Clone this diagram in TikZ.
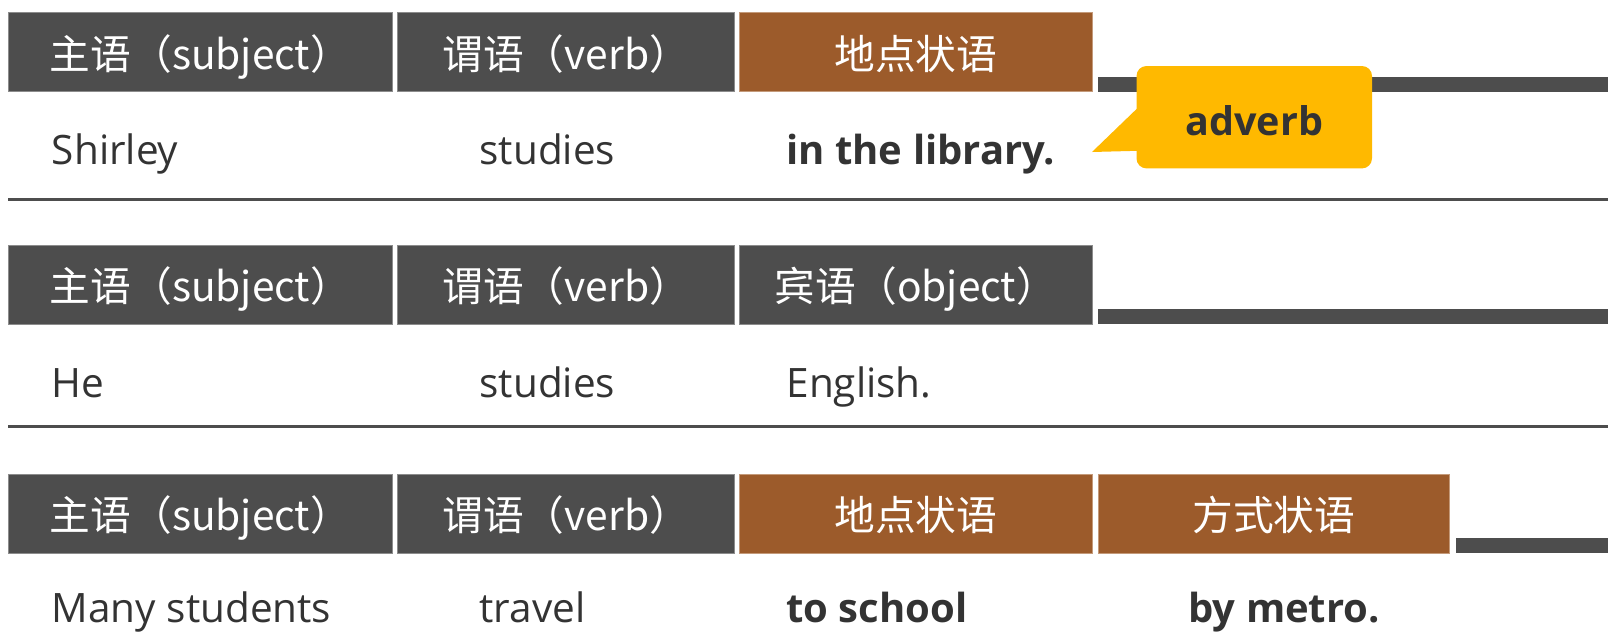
\documentclass[tikz,border=0pt]{standalone}
\usepackage{fontspec}
\setmainfont{Open Sans}
\newfontfamily\cjk{Noto Sans CJK SC}
\usetikzlibrary{calc}
\definecolor{hdr}{HTML}{4D4D4D}
\definecolor{hdredge}{HTML}{8C8C8C}
\definecolor{brn}{HTML}{9C5B2B}
\definecolor{brnedge}{HTML}{C49A7A}
\definecolor{ylw}{HTML}{FFB900}
\definecolor{txt}{HTML}{333333}
\begin{document}
\begin{tikzpicture}[x=1pt,y=-1pt,
  hcell/.style={draw=hdredge, line width=1pt, text=white, inner sep=0pt,
    minimum height=79pt, text height=38pt, text depth=4pt,
    font=\cjk\fontsize{40.7}{44}\selectfont},
  graycell/.style={hcell, fill=hdr},
  browncell/.style={hcell, fill=brn, draw=brnedge},
  wA/.style={minimum width=384.3pt},
  wB/.style={minimum width=336.8pt},
  wC/.style={minimum width=352.2pt},
  wD/.style={minimum width=351.6pt},
  word/.style={anchor=base west, inner sep=0pt, text=txt, font=\fontsize{40.5}{44}\selectfont},
  bword/.style={word, font=\fontsize{40}{44}\selectfont\bfseries},
  bar/.style={fill=hdr},
  sep/.style={draw=hdr, line width=3pt},
  callout/.style={fill=ylw, rounded corners=10pt, inner sep=0pt,
    minimum width=235.5pt, minimum height=102.4pt, text=txt,
    text height=36pt, text depth=0pt,
    font=\fontsize{39.5}{44}\selectfont\bfseries}
]
\useasboundingbox (0,0) rectangle (1620,633);
% ---------- row 1 ----------
\node[graycell,wA] (h11) at (200.45,52.2) {主语（subject）};
\node[graycell,wB] (h12) at (566.2,52.2) {谓语（verb）};
\node[browncell,wC] (h13) at (915.9,52.2) {地点状语};
\fill[bar] (1098,76.5) rectangle (1607.7,92);
\node[word] (t11) at (51.7,164) {Shirley};
\node[word] (t12) at (479.4,164) {studies};
\node[bword] (t13) at (786.3,164) {in the library.};
\node[callout] (adv) at (1254.25,117.2) {adverb};
\coordinate (tip) at (1092,152);
\fill[ylw] ($(adv.north west)+(1,42.5)$) -- (tip) -- ($(adv.north west)+(1,85)$) -- cycle;
\coordinate (s1a) at (8.3,199.5);
\coordinate (s1b) at (1607.7,199.5);
\draw[sep] (s1a) -- (s1b);
% ---------- row 2 ----------
\node[graycell,wA] (h21) at (200.45,284.5) {主语（subject）};
\node[graycell,wB] (h22) at (566.2,284.5) {谓语（verb）};
\node[graycell,wC] (h23) at (915.9,284.5) {宾语（object）};
\fill[bar] (1098,309) rectangle (1607.7,324);
\node[word] (t21) at (51.7,397) {He};
\node[word] (t22) at (479.4,397) {studies};
\node[word] (t23) at (786.3,397) {English.};
\coordinate (s2a) at (8.3,426.7);
\coordinate (s2b) at (1607.7,426.7);
\draw[sep] (s2a) -- (s2b);
% ---------- row 3 ----------
\node[graycell,wA] (h31) at (200.45,513.5) {主语（subject）};
\node[graycell,wB] (h32) at (566.2,513.5) {谓语（verb）};
\node[browncell,wC] (h33) at (915.9,513.5) {地点状语};
\node[browncell,wD] (h34) at (1273.8,513.5) {方式状语};
\fill[bar] (1455.8,538) rectangle (1607.7,553);
\node[word] (t31) at (51.7,622) {Many students};
\node[word] (t32) at (479.4,622) {travel};
\node[bword] (t33) at (786.3,622) {to school};
\node[bword] (t34) at (1188.2,622) {by metro.};
\end{tikzpicture}
\end{document}
